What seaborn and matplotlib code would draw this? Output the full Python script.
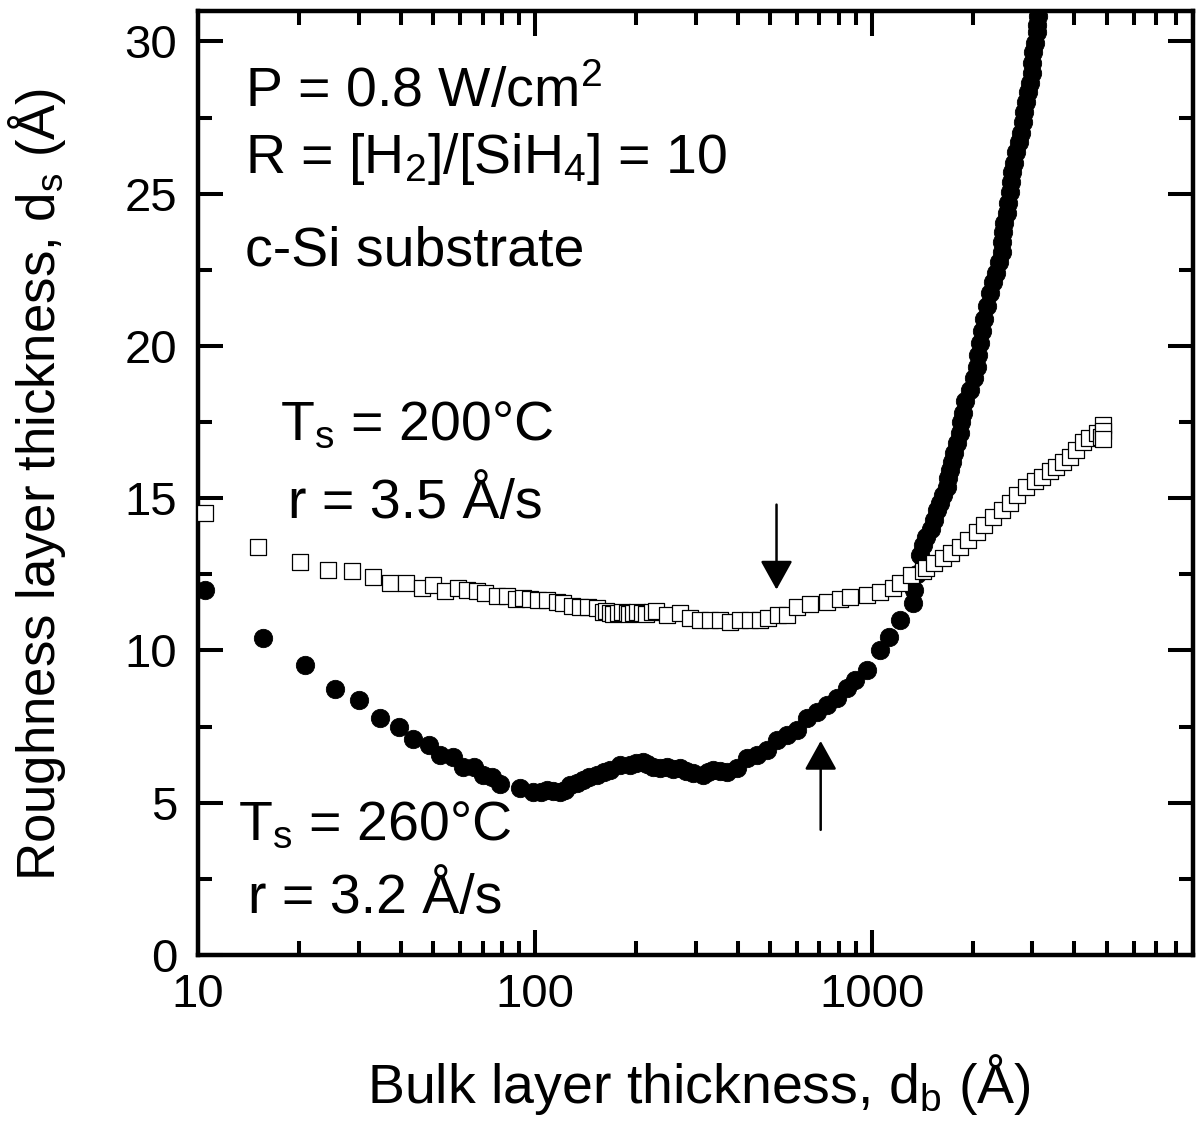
import numpy as np
import pandas as pd
import matplotlib
matplotlib.use("Agg")
import matplotlib.pyplot as plt
from matplotlib.ticker import FixedLocator, FixedFormatter, LogLocator, NullFormatter, MultipleLocator
import seaborn as sns

# ---------------- data ----------------
# T_s = 200 C, open squares
sq_x = [10.5, 15.1, 20.1, 24.3, 28.6, 33.0, 37.1, 41.4, 46.2, 49.8, 54.1, 59.1, 62.8, 67.3,
        71.1, 77.1, 82.6, 87.8, 92.1, 96.6, 102.1, 108.6, 116.2, 121.1, 128.8, 136.1, 143.6,
        152.8, 159.2, 163, 167.0, 171, 176.3, 181, 187.5, 191, 195.4, 201, 207.8, 214, 222.5,
        229, 246.5, 269.4, 288.4, 309, 330.4, 354, 379.3, 405.6, 434.5, 465.4, 491.3, 526.1,
        559.6, 599, 655, 735, 804, 861, 966, 1056, 1154, 1211, 1311, 1417, 1455, 1537, 1624,
        1715, 1824, 1927, 2051, 2163, 2287, 2432, 2567, 2711, 2882, 3047, 3216, 3375, 3539,
        3690, 3869, 4058, 4230, 4433, 4656, 4800, 4850, 4860, 4870]
sq_y = [14.5, 13.4, 12.9, 12.65, 12.6, 12.42, 12.22, 12.22, 12.06, 12.16, 11.96, 12.06, 11.99, 11.96,
        11.9, 11.8, 11.8, 11.7, 11.73, 11.7, 11.67, 11.67, 11.6, 11.57, 11.47, 11.44, 11.44,
        11.4, 11.27, 11.3, 11.24, 11.2, 11.24, 11.27, 11.24, 11.2, 11.24, 11.27, 11.24, 11.2, 11.27,
        11.3, 11.17, 11.24, 11.07, 11.01, 11.01, 11.01, 10.94, 11.01, 11.01, 11.01, 11.07, 11.17,
        11.17, 11.44, 11.53, 11.6, 11.7, 11.77, 11.83, 11.93, 12.06, 12.22, 12.49, 12.6, 12.72, 12.88, 13.05,
        13.21, 13.41, 13.64, 13.9, 14.13, 14.39, 14.62, 14.85, 15.12, 15.38, 15.55, 15.71, 15.88, 16.04,
        16.2, 16.37, 16.6, 16.83, 16.99, 17.15, 17.0, 17.42, 17.2, 16.95]

# T_s = 260 C, filled circles
ci_x = [10.5, 15.6, 20.8, 25.5, 30.1, 34.7, 39.5, 43.4, 48.5, 52.2, 57.1, 61.1, 65.9, 70.1,
        74.5, 78.7, 90.2, 98.6, 104, 108.6, 113, 118.6, 123, 127, 133, 138.8, 145, 152.8, 160,
        167, 178.7, 191.4, 200, 209.1, 216, 224.1, 235, 246.5, 258, 269.4, 281, 294.4, 315.4,
        326, 337.5, 355, 371.5, 397.3, 425.6, 455.9, 487.9, 522.6, 559.6, 598.6, 641.4, 687.1,
        735.2, 787.5, 843.3, 891, 966, 1056, 1130, 1211, 1324, 1340, 1366, 1388, 1420, 1455,
        1500, 1537, 1565, 1591, 1630, 1670, 1690, 1704, 1735, 1762, 1795, 1824, 1845, 1862,
        1900, 1954, 2010, 2051, 2070, 2091, 2125, 2163, 2200, 2240, 2290, 2348, 2390, 2432,
        2440, 2448, 2480, 2516, 2540, 2567, 2590, 2618, 2650, 2692, 2740, 2786, 2815, 2844,
        2875, 2904, 2945, 2985, 2995, 3006, 3050, 3090, 3100, 3112, 3180, 3230]
ci_y = [12.0, 10.42, 9.53, 8.74, 8.38, 7.79, 7.49, 7.10, 6.90, 6.57, 6.51, 6.18, 6.18, 5.92,
        5.85, 5.62, 5.49, 5.36, 5.36, 5.42, 5.38, 5.36, 5.42, 5.59, 5.65, 5.75, 5.85, 5.92, 6.0,
        6.08, 6.24, 6.24, 6.3, 6.34, 6.28, 6.18, 6.15, 6.18, 6.12, 6.15, 6.05, 5.98, 5.92,
        6.0, 6.08, 6.05, 6.01, 6.15, 6.47, 6.57, 6.74, 7.07, 7.23, 7.39, 7.79, 7.99,
        8.22, 8.45, 8.77, 9.04, 9.37, 10.02, 10.45, 11.01, 11.57, 12.0, 12.5, 13.14, 13.45, 13.74,
        14.0, 14.3, 14.6, 14.85, 15.1, 15.38, 15.65, 15.94, 16.2, 16.5, 16.8, 17.15, 17.5, 17.81,
        18.2, 18.57, 18.95, 19.32, 19.7, 20.1, 20.5, 20.87, 21.3, 21.75, 22.1, 22.41, 22.75, 23.07,
        23.4, 23.73, 24.05, 24.38, 24.7, 25.04, 25.4, 25.7, 26.0, 26.36, 26.7, 27.01, 27.35, 27.67,
        28.0, 28.33, 28.65, 28.98, 29.3, 29.64, 29.95, 30.3, 30.55, 30.82, 31.5, 32.2]

x_major = [10, 100, 1000]
x_major_labels = ["10", "100", "1000"]
y_major = [0, 5, 10, 15, 20, 25, 30]
y_major_labels = ["0", "5", "10", "15", "20", "25", "30"]

# ---------------- style ----------------
sns.set_style("ticks")
plt.rcParams["font.family"] = ["Liberation Sans", "DejaVu Sans"]
plt.rcParams["mathtext.fontset"] = "custom"
plt.rcParams["mathtext.rm"] = "Liberation Sans"
plt.rcParams["mathtext.it"] = "Liberation Sans:italic"
plt.rcParams["mathtext.bf"] = "Liberation Sans:bold"
for k in ["text.color", "axes.labelcolor", "xtick.color", "ytick.color", "axes.edgecolor"]:
    plt.rcParams[k] = "black"

W, H = 1199, 1134
fig = plt.figure(figsize=(W / 100, H / 100), dpi=100)
L, R, B, T = 198, 1193, 955, 11
ax = fig.add_axes([L / W, 1 - B / H, (R - L) / W, (B - T) / H])

df_c = pd.DataFrame({"x": ci_x, "y": ci_y})
df_s = pd.DataFrame({"x": sq_x, "y": sq_y})

sns.scatterplot(data=df_c, x="x", y="y", ax=ax, marker="o", s=175, color="black",
                edgecolor="black", linewidth=0.6, zorder=3, legend=False)
sns.scatterplot(data=df_s, x="x", y="y", ax=ax, marker="s", s=130, color="white",
                edgecolor="black", linewidth=0.9, zorder=4, legend=False)

ax.set_xscale("log")
ax.set_xlim(10, 9000)
ax.set_ylim(0, 31)

ax.xaxis.set_major_locator(FixedLocator(x_major))
ax.xaxis.set_major_formatter(FixedFormatter(x_major_labels))
ax.xaxis.set_minor_locator(LogLocator(base=10, subs=np.arange(2, 10)))
ax.xaxis.set_minor_formatter(NullFormatter())
ax.yaxis.set_major_locator(FixedLocator(y_major))
ax.yaxis.set_major_formatter(FixedFormatter(y_major_labels))
ax.yaxis.set_minor_locator(MultipleLocator(2.5))

for sp in ax.spines.values():
    sp.set_linewidth(3.2)
    sp.set_color("black")
    sp.set_visible(True)

ax.tick_params(which="both", direction="in", top=True, right=True, colors="black", width=2.9)
ax.tick_params(which="major", length=18, labelsize=34)
ax.tick_params(axis="x", which="major", pad=13)
ax.tick_params(axis="y", which="major", pad=15)
ax.tick_params(which="minor", length=10)

ax.set_xlabel("Bulk layer thickness, d$_\\mathregular{b}$ (Å)", fontsize=40, color="black")
ax.set_ylabel("Roughness layer thickness, d$_\\mathregular{s}$ (Å)", fontsize=38, color="black")
ax.xaxis.set_label_coords(0.5035, -0.103)
ax.yaxis.set_label_coords(-0.131, 0.498)

def axpos(px, py):
    return ((px - L) / (R - L), (B - py) / (B - T))

txt = dict(fontsize=40, ha="left", va="baseline", transform=ax.transAxes, color="black")
ax.text(*axpos(245, 107), "P = 0.8 W/cm$^\\mathregular{2}$", **txt)
ax.text(*axpos(245, 173), "R = [H$_\\mathregular{2}$]/[SiH$_\\mathregular{4}$] = 10", **txt)
ax.text(*axpos(245, 265), "c-Si substrate", **txt)
ax.text(*axpos(280, 440), "T$_\\mathregular{s}$ = 200°C", **txt)
ax.text(*axpos(288, 518), "r = 3.5 Å/s", **txt)
ax.text(*axpos(238, 840), "T$_\\mathregular{s}$ = 260°C", **txt)
ax.text(*axpos(248, 913), "r = 3.2 Å/s", **txt)

arrow = dict(arrowstyle="-|>,head_length=0.9,head_width=0.5", mutation_scale=20,
             color="black", lw=1.8, shrinkA=0, shrinkB=0)
ax.annotate("", xy=(522, 12.0), xytext=(522, 14.79), arrowprops=arrow, zorder=5)
ax.annotate("", xy=(706, 7.03), xytext=(706, 4.11), arrowprops=arrow, zorder=5)

fig.savefig("out.png", dpi=100, facecolor="white")
